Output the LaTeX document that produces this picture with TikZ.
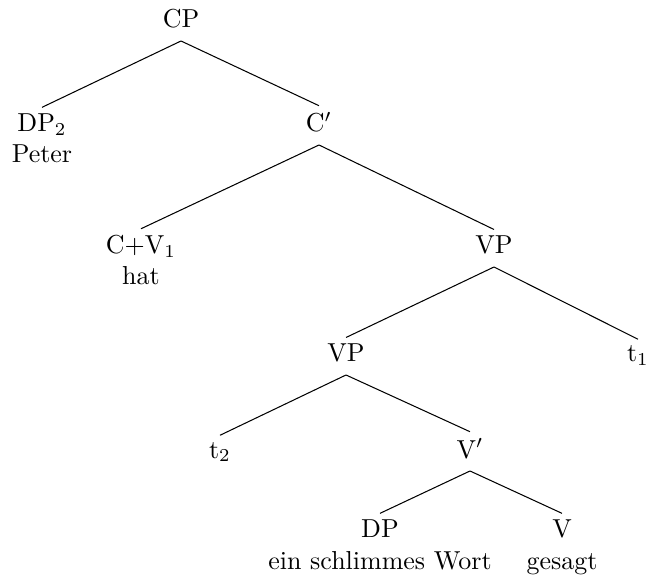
\documentclass[tikz,border=0pt]{standalone}
\usepackage{tikz}
\tikzset{
    cat/.style={inner sep=2.4pt, text depth=2.4pt, anchor=base},
    catword/.style={inner sep=2.4pt, align=center, anchor=base},
    branch/.style={line width=0.4pt}
}

\begin{document}
\begin{tikzpicture}[x=0.385pt, y=-0.385pt]
\useasboundingbox (0,0) rectangle (650,580);

% categories, placed on the baselines of their rows
% (two-line nodes sit on the baseline of their word)
\node[cat] (cp) at (181,28) {CP};
\node[catword] (dp2) at (42,163) {DP$_2$\\Peter};
\node[cat] (cbar) at (319,132) {C$'$};
\node[catword] (cv) at (141,285) {C+V$_1$\\hat};
\node[cat] (vp) at (494,254) {VP};
\node[cat] (vpb) at (346,362) {VP};
\node[cat] (t1) at (638,362) {t$_1$};
\node[cat] (t2) at (220,458) {t$_2$};
\node[cat] (vbar) at (470,458) {V$'$};
\node[catword] (dp) at (380,569) {DP\\ein schlimmes Wort};
\node[catword] (v) at (562,569) {V\\gesagt};

% branches
\draw[branch] (cp.south) -- (dp2.north);
\draw[branch] (cp.south) -- (cbar.north);
\draw[branch] (cbar.south) -- (cv.north);
\draw[branch] (cbar.south) -- (vp.north);
\draw[branch] (vp.south) -- (vpb.north);
\draw[branch] (vp.south) -- (t1.north);
\draw[branch] (vpb.south) -- (t2.north);
\draw[branch] (vpb.south) -- (vbar.north);
\draw[branch] (vbar.south) -- (dp.north);
\draw[branch] (vbar.south) -- (v.north);

\end{tikzpicture}
\end{document}
